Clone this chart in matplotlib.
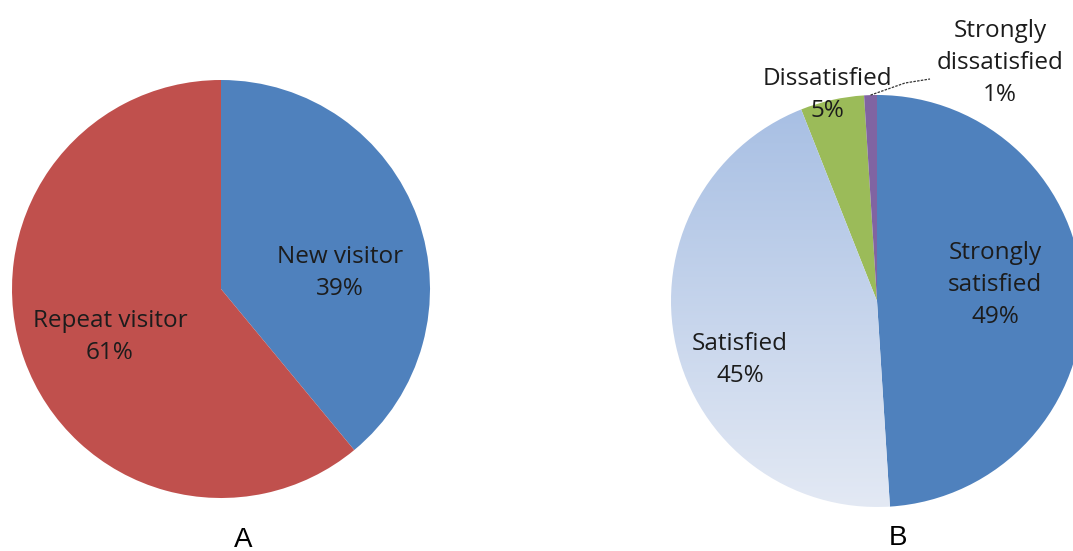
import numpy as np
import matplotlib
matplotlib.use("Agg")
import matplotlib.pyplot as plt
from matplotlib.colors import LinearSegmentedColormap

# Chart A: visitor type
visitor_labels = ["New visitor", "Repeat visitor"]
visitor_values = [39, 61]
visitor_colors = ["#4F81BD", "#C0504D"]

# Chart B: satisfaction
sat_labels = ["Strongly\nsatisfied", "Satisfied", "Dissatisfied", "Strongly\ndissatisfied"]
sat_values = [49, 45, 5, 1]
sat_colors = ["#4F81BD", "none", "#9BBB59", "#8064A2"]

W, H = 1073, 551
fig = plt.figure(figsize=(W / 100, H / 100), dpi=100)
ax = fig.add_axes([0, 0, 1, 1])

font = ["Open Sans", "DejaVu Sans"]
txt = dict(fontsize=17.5, color="#1c1c1c", ha="center", va="center",
           family=font, linespacing=1.42)

# ---- pie A ----
ca, ra = (221, 262), 209
ax.pie(visitor_values, colors=visitor_colors, startangle=90, counterclock=False,
       center=ca, radius=ra, wedgeprops=dict(linewidth=0), frame=True)
ax.text(340, 278, f"{visitor_labels[0]}\n{visitor_values[0]}%", **txt)
ax.text(110, 214, f"{visitor_labels[1]}\n{visitor_values[1]}%", **txt)

# ---- pie B ----
cb, rb = (877, 250), 206
wedges, _ = ax.pie(sat_values, colors=sat_colors, startangle=90, counterclock=False,
                   center=cb, radius=rb, wedgeprops=dict(linewidth=0), frame=True)

# gradient fill for the "Satisfied" slice
grad = LinearSegmentedColormap.from_list("sat", ["#E3E9F4", "#A6BEE3"])
g = np.linspace(0, 1, 256).reshape(-1, 1)
im = ax.imshow(g, cmap=grad, origin="lower", aspect="auto",
               extent=(cb[0] - rb, cb[0] + rb, cb[1] - rb, cb[1] + rb), zorder=1)
im.set_clip_path(wedges[1])

ax.set_xlim(0, W)
ax.set_ylim(0, H)
ax.set_aspect("auto")
ax.axis("off")

ax.text(995, 266, f"{sat_labels[0]}\n{sat_values[0]}%", **txt)
ax.text(740, 191, f"{sat_labels[1]}\n{sat_values[1]}%", **txt)
ax.text(827, 456, f"{sat_labels[2]}\n{sat_values[2]}%", **txt)
ax.text(1000, 488, f"{sat_labels[3]}\n{sat_values[3]}%", **txt)

# leader line for the smallest slice
mid = np.deg2rad(90 - 360 * (sum(sat_values[:3]) + sat_values[3] / 2) / 100)
p0 = (cb[0] + rb * np.cos(mid), cb[1] + rb * np.sin(mid))
ax.plot([p0[0], 905, 930], [p0[1], 468, 472], color="#333333", lw=0.9,
        ls=(0, (2, 1)), zorder=5)

# panel letters
ax.text(243, 11, "A", fontsize=20, family="Liberation Sans", ha="center", va="center")
ax.text(898, 13, "B", fontsize=20, family="Liberation Sans", ha="center", va="center")

fig.savefig("out.png", dpi=100)
